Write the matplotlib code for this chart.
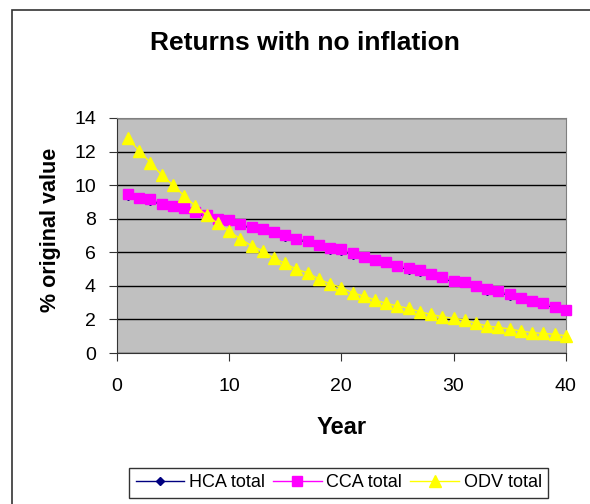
import matplotlib.pyplot as plt
from matplotlib.patches import Rectangle

plt.rcParams['font.family'] = ['Liberation Sans', 'DejaVu Sans']

years = list(range(1, 41))
hca = [9.38, 9.18, 9.07, 8.83, 8.67, 8.57, 8.33, 8.12, 7.93, 7.82,
       7.62, 7.43, 7.32, 7.12, 6.93, 6.73, 6.62, 6.38, 6.16, 6.09,
       5.86, 5.66, 5.47, 5.36, 5.13, 4.97, 4.85, 4.63, 4.44, 4.23,
       4.16, 3.92, 3.72, 3.62, 3.42, 3.22, 3.03, 2.89, 2.69, 2.49]
cca = [9.45, 9.25, 9.15, 8.90, 8.75, 8.65, 8.40, 8.20, 8.00, 7.90,
       7.70, 7.50, 7.40, 7.20, 7.00, 6.80, 6.70, 6.45, 6.23, 6.17,
       5.93, 5.73, 5.54, 5.43, 5.20, 5.04, 4.92, 4.70, 4.51, 4.30,
       4.23, 3.99, 3.79, 3.69, 3.49, 3.29, 3.10, 2.96, 2.76, 2.56]
odv = [12.78, 12.04, 11.33, 10.60, 10.00, 9.36, 8.75, 8.21, 7.72, 7.26,
       6.79, 6.39, 6.09, 5.64, 5.34, 4.98, 4.78, 4.40, 4.12, 3.90,
       3.59, 3.39, 3.15, 2.96, 2.80, 2.66, 2.46, 2.30, 2.16, 2.07,
       1.96, 1.77, 1.61, 1.53, 1.43, 1.31, 1.21, 1.17, 1.11, 1.03]

fig = plt.figure(figsize=(5.9, 5.04), dpi=100)
# chart-area border (right and bottom edges fall outside the picture)
fig.patches.append(Rectangle((12 / 590, -0.1), 1.2, 1.1 - 10 / 504, transform=fig.transFigure,
                             fill=False, edgecolor='#333333', linewidth=1.2))

ax = fig.add_axes([0.198, 0.2996, 0.761, 0.4664])
ax.set_facecolor('#C0C0C0')

ax.plot(years, hca, color='#000080', marker='D', markersize=4.5, linewidth=1,
        label='HCA total', clip_on=False, zorder=3)
ax.plot(years, cca, color='#FF00FF', marker='s', markersize=7.5, linewidth=1,
        markeredgecolor='#FF00FF', label='CCA total', clip_on=False, zorder=4)
ax.plot(years, odv, color='#FFFF00', marker='^', markersize=9, linewidth=1,
        markeredgecolor='#FFFF00', label='ODV total', clip_on=False, zorder=5)

ax.set_xlim(0, 40)
ax.set_ylim(0, 14)
ax.set_xticks([0, 10, 20, 30, 40])
ax.set_yticks(range(0, 15, 2))
ax.yaxis.grid(True, color='black', linewidth=1)
ax.set_axisbelow(True)
ax.tick_params(labelsize=14, direction='out', length=6, color='#333333')
ax.tick_params(axis='x', pad=12)
ax.tick_params(axis='y', pad=9)
for s in ax.spines.values():
    s.set_color('#808080')
ax.spines['left'].set_color('#333333')
ax.spines['bottom'].set_color('#333333')

ax.set_xlabel('Year', fontsize=17, fontweight='bold')
ax.xaxis.set_label_coords(0.5, -0.268)
ax.set_ylabel('% original value', fontsize=15.5, fontweight='bold')
ax.yaxis.set_label_coords(-0.125, 0.523)
fig.text(0.517, 0.915, 'Returns with no inflation', fontsize=19, fontweight='bold',
         ha='center', va='center')

leg = fig.legend(loc='upper center', bbox_to_anchor=(0.574, 0.0714), ncol=3, fontsize=13,
                 frameon=True, fancybox=False, edgecolor='black', handlelength=2.7,
                 columnspacing=0.45, handletextpad=0.25, borderpad=0.35, borderaxespad=0)
leg.get_frame().set_linewidth(1)

fig.savefig('out.png', dpi=100)
